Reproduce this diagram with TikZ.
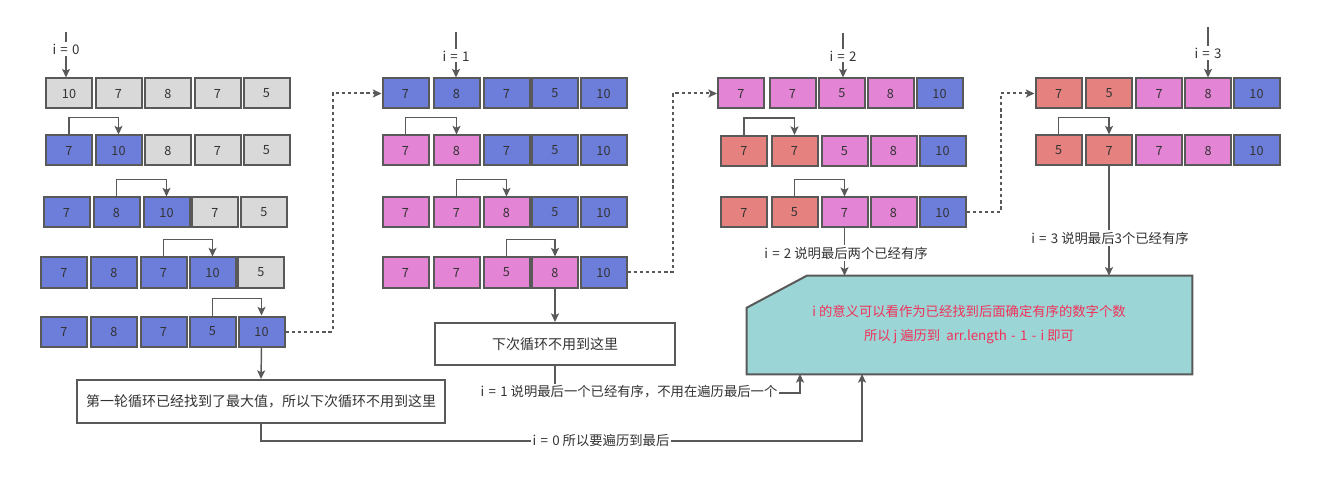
\documentclass[tikz,border=0pt]{standalone}
\usepackage{fontspec}
\setmainfont{Noto Sans CJK SC}
\usetikzlibrary{arrows.meta}
\definecolor{cg}{HTML}{D9D9D9}
\definecolor{cb}{HTML}{6C7ED9}
\definecolor{cp}{HTML}{E384D4}
\definecolor{cr}{HTML}{E5827F}
\definecolor{ln}{HTML}{595959}
\definecolor{txt}{HTML}{333333}
\definecolor{teal}{HTML}{9BD5D5}
\definecolor{redtxt}{HTML}{F0325A}
\newcommand\gapsp{\hspace{3.2pt}}
\tikzset{
  cell/.style={draw=ln, line width=1.5pt, minimum width=34.5pt, minimum height=22.5pt, inner sep=0pt, font=\fontsize{9.5}{11}\selectfont, text=txt},
  arr/.style={draw=ln, line width=1.1pt, -{Stealth[length=6.5pt,width=6pt,inset=1.5pt]}},
  dotln/.style={draw=ln, line width=1.5pt, dash pattern=on 2.4pt off 2.2pt, -{Stealth[length=6.5pt,width=6pt,inset=1.5pt]}},
  lbl/.style={fill=white, inner sep=1pt, font=\fontsize{10}{12}\selectfont, text=txt},
  box/.style={draw=ln, line width=1.5pt, fill=white, inner sep=0pt, font=\fontsize{10.5}{12}\selectfont, text=txt}
}
\newcommand\mkrow[3]{\foreach \xx/\vv/\cc [count=\kk] in {#3} {\node[cell,fill=\cc] (#1-\kk) at (\xx,#2) {\vv};}}
\begin{document}
\begin{tikzpicture}[x=0.75pt,y=-0.75pt]
\useasboundingbox (0,0) rectangle (1327,477);
% group i=0
\mkrow{a1}{93.5}{69/10/cg,118.5/7/cg,168/8/cg,217.5/7/cg,266.5/5/cg}
\mkrow{a2}{150.5}{69/7/cb,118.5/10/cb,168/8/cg,217.5/7/cg,266.5/5/cg}
\mkrow{a3}{212.5}{66.5/7/cb,116.5/8/cb,166.5/10/cb,215/7/cg,264/5/cg}
\mkrow{a4}{272.5}{64/7/cb,114/8/cb,163.5/7/cb,212.5/10/cb,261/5/cg}
\mkrow{a5}{331.5}{64/7/cb,114/8/cb,163.5/7/cb,212.5/5/cb,261.5/10/cb}
% group i=1
\mkrow{b1}{93.5}{405.5/7/cb,456.5/8/cb,506.5/7/cb,555/5/cb,603.5/10/cb}
\mkrow{b2}{150.5}{405.5/7/cp,456.5/8/cp,506.5/7/cb,555/5/cb,603.5/10/cb}
\mkrow{b3}{212.5}{405.5/7/cp,456.5/7/cp,506.5/8/cp,555/5/cb,603.5/10/cb}
\mkrow{b4}{272.5}{405.5/7/cp,456.5/7/cp,506.5/5/cp,555/8/cp,603.5/10/cb}
% group i=2
\mkrow{c1}{93.5}{741/7/cp,792.5/7/cp,842/5/cp,890.5/8/cp,939.5/10/cb}
\mkrow{c2}{151}{744/7/cr,794.5/7/cr,844.5/5/cp,893.5/8/cp,942.5/10/cb}
\mkrow{c3}{212.5}{744/7/cr,794.5/5/cr,844.5/7/cp,893.5/8/cp,942.5/10/cb}
% group i=3
\mkrow{d1}{93.5}{1058.5/7/cr,1109/5/cr,1159/7/cp,1208/8/cp,1256.5/10/cb}
\mkrow{d2}{150.5}{1058.5/5/cr,1109/7/cr,1159/7/cp,1208/8/cp,1256.5/10/cb}
% swap arrows
\foreach \r/\s/\t in {a2/1/2,a3/2/3,a4/3/4,a5/4/5,b2/1/2,b3/2/3,b4/3/4,c2/1/2,c3/2/3,d2/1/2}{
  \draw[arr] (\r-\s.north) -- ++(0,-17) -| (\r-\t.north);
}
% i labels
\coordinate (ia) at (66,32);
\coordinate (ib) at (456,32);
\coordinate (ic) at (843,33);
\coordinate (id) at (1208,27);
\draw[arr] (ia) -- (ia |- a1-1.north);
\draw[arr] (ib) -- (ib |- b1-1.north);
\draw[arr] (ic) -- (ic |- c1-1.north);
\draw[arr] (id) -- (id |- d1-1.north);
\node[lbl] (la) at (66,49) {i\gapsp=\gapsp0};
\node[lbl] (lb) at (456,56) {i\gapsp=\gapsp1};
\node[lbl] (lc) at (843,56) {i\gapsp=\gapsp2};
\node[lbl] (ld) at (1208,53) {i\gapsp=\gapsp3};
% dotted transitions
\draw[dotln] (a5-5.east) -- ++(47,0) |- (b1-1.west);
\draw[dotln] (b4-5.east) -- ++(45,0) |- (c1-1.west);
\draw[dotln] (c3-5.east) -- ++(34,0) |- (d1-1.west);
% boxes
\node[box, minimum width=276pt, minimum height=32.25pt] (box1) at (261,401.5) {第一轮循环已经找到了最大值，所以下次循环不用到这里};
\node[box, minimum width=180pt, minimum height=31.5pt] (box2) at (555,344) {下次循环不用到这里};
\draw[arr] (a5-5.south) -- (box1.north);
\draw[arr] (b4-4.south) -- (box2.north);
% note shape
\node[minimum width=333.75pt, minimum height=73.5pt, inner sep=0pt] (note) at (969.5,325) {};
\draw[draw=ln, line width=1.5pt, fill=teal]
  ([xshift=45pt]note.north west) -- (note.north east) -- (note.south east) -- (note.south west) -- ([yshift=-24pt]note.north west) -- cycle;
\node[align=center, text=redtxt, font=\fontsize{10}{18}\selectfont] (notetext) at (969,325) {i 的意义可以看作为已经找到后面确定有序的数字个数\\所以 j 遍历到~~arr.length\gapsp-\gapsp1\gapsp-\gapsp i 即可};
\coordinate (nb1) at (800,374);
\coordinate (nb2) at (862,374);
% connectors to note
\draw[arr] (box1.south) -- ++(0,17) -| (nb2);
\node[lbl] (l0) at (601,440) {i\gapsp=\gapsp0 所以要遍历到最后};
\draw[arr] (box2.south) -- ++(0,27) -| (nb1);
\node[lbl] (l1) at (629,392) {i\gapsp=\gapsp1 说明最后一个已经有序，不用在遍历最后一个};
\draw[arr] (c3-3.south) -- (c3-3.south |- note.north);
\node[lbl] (l2) at (846,253) {i\gapsp=\gapsp2 说明最后两个已经有序};
\draw[arr] (d2-2.south) -- (d2-2.south |- note.north);
\node[lbl] (l3) at (1110,238) {i\gapsp=\gapsp3 说明最后3个已经有序};
\end{tikzpicture}
\end{document}
